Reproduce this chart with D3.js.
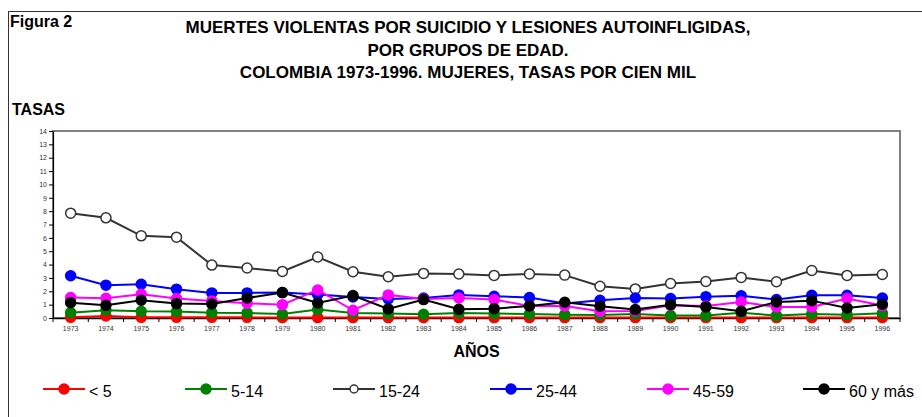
<!DOCTYPE html>
<html>
<head>
<meta charset="utf-8">
<script src="https://cdn.jsdelivr.net/npm/d3@7"></script>
<style>
  body { margin: 0; background: #fff; }
  svg { display: block; font-family: Arial, "Liberation Sans", sans-serif; }
</style>
</head>
<body>
<div id="chart-area"></div>
<script>
//======================== DATA ========================
var years = ["1973","1974","1975","1976","1977","1978","1979","1980","1981","1982","1983","1984",
             "1985","1986","1987","1988","1989","1990","1991","1992","1993","1994","1995","1996"];

var menores5 = [0.05,0.15,0.05,0.05,0.05,0.05,0.03,0.03,0.03,0.03,0.03,0.03,
                0.03,0.03,0.03,0.03,0.03,0.03,0.03,0.03,0.03,0.03,0.03,0.03];
var de5a14   = [0.40,0.58,0.50,0.48,0.40,0.38,0.30,0.63,0.38,0.33,0.28,0.38,
                0.33,0.30,0.25,0.23,0.30,0.18,0.18,0.40,0.18,0.30,0.25,0.35];
var de15a24  = [7.85,7.50,6.15,6.05,3.96,3.74,3.49,4.57,3.46,3.09,3.34,3.29,
                3.19,3.29,3.21,2.38,2.18,2.58,2.73,3.04,2.71,3.56,3.19,3.26];
var de25a44  = [3.16,2.46,2.53,2.16,1.88,1.88,1.90,1.76,1.58,1.43,1.50,1.73,
                1.63,1.53,1.08,1.33,1.50,1.46,1.60,1.66,1.38,1.70,1.70,1.50];
var de45a59  = [1.53,1.48,1.78,1.46,1.28,1.10,1.00,2.10,0.58,1.73,1.43,1.50,
                1.38,0.90,0.90,0.50,0.53,0.95,0.90,1.20,0.83,0.83,1.46,0.93];
var de60     = [1.15,0.95,1.33,1.08,1.05,1.50,1.90,1.12,1.68,0.68,1.38,0.65,
                0.70,0.90,1.18,0.88,0.63,1.00,0.83,0.50,1.20,1.30,0.75,1.03];

var seriesNames  = ["< 5", "5-14", "15-24", "25-44", "45-59", "60 y más"];
var seriesValues = [menores5, de5a14, de15a24, de25a44, de45a59, de60];
var yTicks = d3.range(0, 15);

//======================== LAYOUT ========================
var W = 922, H = 417;
var plot = { left: 53, right: 900, top: 131, bottom: 318 };
var lineColors   = ["#ff0000", "#008000", "#333333", "#0000ff", "#ff00ff", "#000000"];
var markerFills  = ["#ff0000", "#008000", "#ffffff", "#0000ff", "#ff00ff", "#000000"];
var legendX = [43, 185, 333, 490, 647, 803];

var svg = d3.select("#chart-area").append("svg")
    .attr("width", W)
    .attr("height", H);

// outer frame
svg.append("rect")
    .attr("x", 8.5).attr("y", 11.5)
    .attr("width", W).attr("height", H)
    .attr("fill", "none")
    .attr("stroke", "#333")
    .attr("stroke-width", 1);

// titles
svg.append("text")
    .attr("x", 10).attr("y", 27)
    .attr("font-size", "16px").attr("font-weight", "bold")
    .text("Figura 2");

var titleLines = ["MUERTES VIOLENTAS POR SUICIDIO Y LESIONES AUTOINFLIGIDAS,",
                  "POR GRUPOS DE EDAD.",
                  "COLOMBIA 1973-1996. MUJERES, TASAS POR CIEN MIL"];
svg.selectAll(".title").data(titleLines).enter()
    .append("text")
    .attr("class", "title")
    .attr("x", 468)
    .attr("y", function(d, i){ return 33 + i * 22.5; })
    .attr("text-anchor", "middle")
    .attr("font-size", "17px").attr("font-weight", "bold")
    .text(function(d){ return d; });

svg.append("text")
    .attr("x", 12).attr("y", 115)
    .attr("font-size", "16px").attr("font-weight", "bold")
    .text("TASAS");

//======================== SCALES ========================
var x = d3.scaleBand()
    .domain(years)
    .range([plot.left, plot.right])
    .padding(0);

var y = d3.scaleLinear()
    .domain([0, 14])
    .range([plot.bottom, plot.top]);

// plot frame (grey)
svg.append("rect")
    .attr("x", plot.left).attr("y", plot.top)
    .attr("width", plot.right - plot.left)
    .attr("height", plot.bottom - plot.top)
    .attr("fill", "none")
    .attr("stroke", "#808080")
    .attr("stroke-width", 2);

// y axis
var yAxis = svg.append("g")
    .attr("transform", "translate(" + plot.left + ",0)")
    .call(d3.axisLeft(y).tickValues(yTicks).tickSize(4).tickPadding(2).tickSizeOuter(0));
yAxis.selectAll("text").attr("font-size", "7px").attr("fill", "#333").attr("font-family", null);
yAxis.select(".domain").attr("stroke", "#000").attr("stroke-width", 1.2);

// x axis: labels centred in bands, ticks on band boundaries
var xAxis = svg.append("g")
    .attr("transform", "translate(0," + plot.bottom + ")")
    .call(d3.axisBottom(x).tickSize(0).tickPadding(8).tickSizeOuter(0));
xAxis.selectAll("text").attr("font-size", "7px").attr("fill", "#333").attr("font-family", null);
xAxis.select(".domain").attr("stroke", "#000").attr("stroke-width", 1.5);

svg.append("g").selectAll("line")
    .data(d3.range(years.length + 1)).enter()
    .append("line")
    .attr("x1", function(i){ return plot.left + i * x.step(); })
    .attr("x2", function(i){ return plot.left + i * x.step(); })
    .attr("y1", plot.bottom)
    .attr("y2", plot.bottom + 4)
    .attr("stroke", "#000");

svg.append("text")
    .attr("x", (plot.left + plot.right) / 2)
    .attr("y", 357)
    .attr("text-anchor", "middle")
    .attr("font-size", "16px").attr("font-weight", "bold")
    .text("AÑOS");

//======================== SERIES ========================
var line = d3.line()
    .x(function(d, i){ return x(years[i]) + x.bandwidth() / 2; })
    .y(function(d){ return y(d); });

seriesValues.forEach(function(vals, s){
    var gS = svg.append("g");
    gS.append("path")
        .attr("d", line(vals))
        .attr("fill", "none")
        .attr("stroke", lineColors[s])
        .attr("stroke-width", 2);
    gS.selectAll("circle").data(vals).enter()
        .append("circle")
        .attr("cx", function(d, i){ return x(years[i]) + x.bandwidth() / 2; })
        .attr("cy", function(d){ return y(d); })
        .attr("r", 5)
        .attr("fill", markerFills[s])
        .attr("stroke", lineColors[s])
        .attr("stroke-width", 1.5);
});

//======================== LEGEND ========================
var legend = svg.selectAll(".legend").data(seriesNames).enter()
    .append("g")
    .attr("class", "legend")
    .attr("transform", function(d, i){ return "translate(" + legendX[i] + ",389)"; });

legend.append("line")
    .attr("x1", 0).attr("x2", 42)
    .attr("stroke", function(d, i){ return lineColors[i]; })
    .attr("stroke-width", 2);
legend.append("circle")
    .attr("cx", 21)
    .attr("r", function(d, i){ return i === 2 ? 4 : 5; })
    .attr("fill", function(d, i){ return markerFills[i]; })
    .attr("stroke", function(d, i){ return lineColors[i]; })
    .attr("stroke-width", 1.5);
legend.append("text")
    .attr("x", 46).attr("y", 8)
    .attr("font-size", "16px")
    .text(function(d){ return d; });
</script>
</body>
</html>
